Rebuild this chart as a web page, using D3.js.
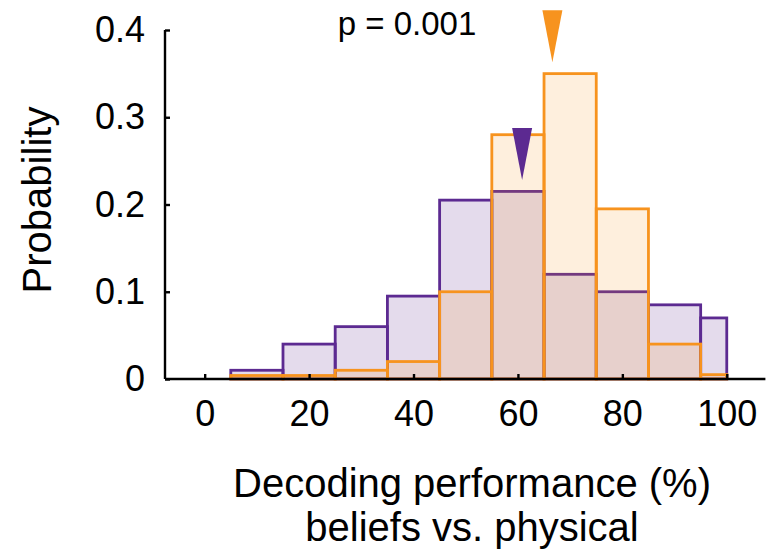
<!DOCTYPE html>
<html>
<head>
<meta charset="utf-8">
<script src="https://cdn.jsdelivr.net/npm/d3@7"></script>
<style>
  html, body { margin: 0; padding: 0; background: #fff; }
  svg { display: block; font-family: Arial, "Liberation Sans", sans-serif; }
</style>
</head>
<body>
<svg id="chart" width="767" height="551"></svg>
<script>
// ---- data ----
const binEdges = [5, 15, 25, 35, 45, 55, 65, 75, 85, 95, 100];
const physicalProb = [0.01, 0.04, 0.06, 0.095, 0.205, 0.215, 0.12, 0.10, 0.085, 0.07];   // purple
const beliefsProb  = [0.004, 0.004, 0.01, 0.02, 0.10, 0.28, 0.35, 0.195, 0.04, 0.005];  // orange
const meanPurple = 60.8, meanOrange = 66.6;
const markerTipPurple = 0.228, markerTipOrange = 0.363;
const xTicks = [0, 20, 40, 60, 80, 100];
const yTicks = [0, 0.1, 0.2, 0.3, 0.4];
const yTickLabels = ["0", "0.1", "0.2", "0.3", "0.4"];
const pText = "p = 0.001";
const xTitle = ["Decoding performance (%)", "beliefs vs. physical"];
const yTitle = "Probability";

const purple = "#5c2a91", orange = "#f7931e";

const svg = d3.select("#chart");
const x = d3.scaleLinear().domain([-7.6, 107.4]).range([165, 765.4]);
const y = d3.scaleLinear().domain([0, 0.4]).range([379, 30]);

const bins = (vals) => vals.map((v, i) => ({x0: binEdges[i], x1: binEdges[i + 1], v}));

function drawHist(vals, color, alpha) {
  svg.append("g").selectAll("rect").data(bins(vals)).join("rect")
    .attr("x", d => x(d.x0))
    .attr("y", d => y(d.v))
    .attr("width", d => x(d.x1) - x(d.x0))
    .attr("height", d => y(0) - y(d.v))
    .attr("fill", color).attr("fill-opacity", alpha)
    .attr("stroke", color).attr("stroke-width", 2.8);
}
drawHist(physicalProb, purple, 0.17);
drawHist(beliefsProb, orange, 0.15);

// axes
const xAxis = d3.axisBottom(x).tickValues(xTicks).tickSize(-5).tickPadding(21).tickFormat(d3.format("d"));
const gx = svg.append("g").attr("transform", `translate(0,${y(0)})`).call(xAxis);
gx.select(".domain").attr("d", `M${x.range()[0]},0H${x.range()[1]}`).attr("stroke", "#000").attr("stroke-width", 2.4);
gx.selectAll(".tick line").attr("stroke", "#000").attr("stroke-width", 2.4);
gx.selectAll(".tick text").attr("font-size", 36).attr("fill", "#000").attr("font-family", "Arial, 'Liberation Sans', sans-serif");

const yAxis = d3.axisLeft(y).tickValues(yTicks).tickSize(-5).tickPadding(20).tickFormat((d, i) => yTickLabels[i]);
const gy = svg.append("g").attr("transform", `translate(${x.range()[0]},0)`).call(yAxis);
gy.select(".domain").attr("d", `M0,${y(0.4)}V${y(0)}`).attr("stroke", "#000").attr("stroke-width", 2.4);
gy.selectAll(".tick line").attr("stroke", "#000").attr("stroke-width", 2.4);
gy.selectAll(".tick text").attr("font-size", 36).attr("fill", "#000").attr("font-family", "Arial, 'Liberation Sans', sans-serif");

// mean markers
const markers = [
  {m: meanPurple, tip: markerTipPurple, c: purple},
  {m: meanOrange, tip: markerTipOrange, c: orange}
];
svg.append("g").selectAll("path").data(markers).join("path")
  .attr("d", d => {
    const cx = x(d.m), ty = y(d.tip);
    return `M${cx - 10},${ty - 52}L${cx + 10},${ty - 52}L${cx},${ty}Z`;
  })
  .attr("fill", d => d.c);

// texts
svg.append("text").attr("x", 407).attr("y", 35).attr("text-anchor", "middle")
  .attr("font-size", 33).text(pText);

svg.append("text").attr("transform", `translate(51,200) rotate(-90)`)
  .attr("text-anchor", "middle").attr("font-size", 40).text(yTitle);

svg.append("g").selectAll("text").data(xTitle).join("text")
  .attr("x", 472).attr("y", (d, i) => 497 + i * 44)
  .attr("text-anchor", "middle").attr("font-size", 40).text(d => d);
</script>
</body>
</html>
